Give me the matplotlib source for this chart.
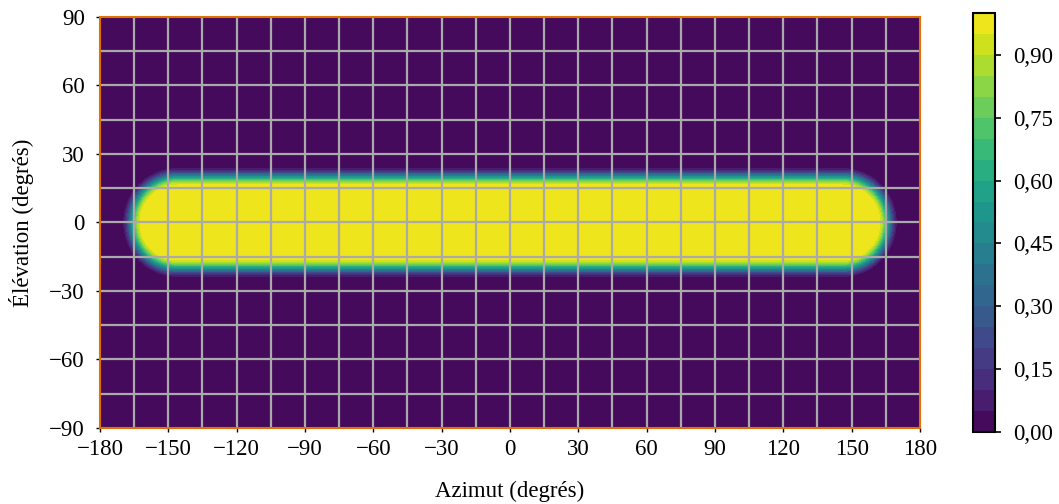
import numpy as np
import matplotlib
matplotlib.use("Agg")
import matplotlib.pyplot as plt
from matplotlib.ticker import FuncFormatter

plt.rcParams['font.family'] = ['Liberation Serif', 'DejaVu Serif']
plt.rcParams['font.size'] = 16.5

# capsule-shaped gain pattern
seg_az = [-146, 146]      # azimuth ends of the full-gain band (deg)
plateau = 15              # full gain up to this distance (deg)
taper = 10                # gain falls to zero over this width (deg)

levels = np.arange(0, 1.0001, 0.05)
xticks = [-180, -150, -120, -90, -60, -30, 0, 30, 60, 90, 120, 150, 180]
yticks = [-90, -60, -30, 0, 30, 60, 90]
cbar_ticks = [0.0, 0.15, 0.30, 0.45, 0.60, 0.75, 0.90]

az = np.linspace(-180, 180, 721)
el = np.linspace(-90, 90, 361)
AZ, EL = np.meshgrid(az, el)
dx = np.clip(AZ, seg_az[0], seg_az[1]) - AZ
dist = np.hypot(dx, EL)
t = np.clip((dist - plateau) / taper, 0, 1)
gain = 0.5 * (1 + np.cos(np.pi * t))

fig = plt.figure(figsize=(10.59, 5.04), dpi=100)
ax = fig.add_axes([0.0944, 0.1508, 0.7743, 0.8155])
cax = fig.add_axes([0.9188, 0.1429, 0.0208, 0.8313])

cf = ax.contourf(AZ, EL, gain, levels=levels, cmap='viridis')

for v in np.arange(-165, 180, 15):
    ax.axvline(v, color='#aaaaaa', lw=1.6)
for v in np.arange(-75, 90, 15):
    ax.axhline(v, color='#aaaaaa', lw=1.6)

ax.set_xlim(-180, 180)
ax.set_ylim(-90, 90)
ax.set_xticks(xticks)
ax.set_yticks(yticks)
ax.tick_params(axis='x', length=3, width=1, pad=5)
ax.tick_params(axis='y', length=3, width=1, pad=8)
for s in ax.spines.values():
    s.set_color('#e07000')
    s.set_linewidth(1.5)

ax.set_xlabel('Azimut (degrés)', labelpad=15)
ax.set_ylabel('Élévation (degrés)', labelpad=11)

cb = fig.colorbar(cf, cax=cax, ticks=cbar_ticks)
cb.ax.yaxis.set_major_formatter(FuncFormatter(lambda v, p: f"{v:.2f}".replace('.', ',')))
cb.outline.set_edgecolor('black')
cb.outline.set_linewidth(1.5)
cb.ax.tick_params(length=4, width=1.2, pad=9)

fig.savefig('out.png', dpi=100)
